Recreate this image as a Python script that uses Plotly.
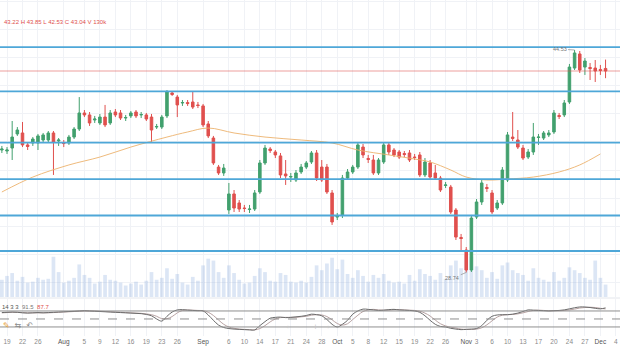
import plotly.graph_objects as go

# ---------------- data ----------------
idx = list(range(118))
opens = [37.43, 37.36, 37.57, 38.57, 38.64, 37.79, 37.93, 37.93, 38.14, 38.14,
         38.64, 38.07, 37.96, 37.93, 38.35, 38.92, 40.06, 39.92, 39.56, 39.35,
         39.77, 39.35, 40.13, 40.06, 39.70, 39.85, 40.13, 39.92, 39.92, 39.77,
         39.06, 39.06, 39.85, 41.48, 41.19, 40.77, 40.80, 40.84, 40.63, 40.56,
         39.28, 38.28, 36.22, 35.80, 33.17, 34.31, 33.67, 33.31, 33.21, 33.24,
         34.45, 36.51, 37.50, 37.29, 37.01, 35.73, 35.51, 35.30, 35.87, 36.22,
         36.58, 37.22, 36.22, 36.22, 34.38, 32.67, 32.82, 35.44, 35.87, 36.22,
         37.64, 36.83, 36.72, 35.80, 36.58, 37.79, 37.43, 37.29, 37.18, 37.22,
         36.93, 37.08, 35.66, 36.51, 35.80, 35.44, 34.91, 34.80, 33.17, 31.22,
         30.33, 28.91, 32.67, 33.74, 34.77, 34.38, 33.31, 33.67, 35.30, 38.35,
         38.14, 37.57, 36.93, 37.29, 38.32, 38.28, 38.50, 38.71, 39.88, 39.92,
         40.84, 43.25, 44.25, 43.32, 43.29, 43.25, 43.15, 43.22]
highs = [37.72, 37.64, 39.49, 39.06, 39.42, 37.93, 38.35, 38.57, 38.64, 38.78,
         38.78, 38.28, 38.14, 38.50, 39.06, 41.19, 40.27, 40.13, 39.85, 39.99,
         40.63, 40.27, 40.34, 40.27, 39.92, 40.20, 40.27, 40.13, 40.06, 39.99,
         39.28, 39.92, 41.69, 41.62, 41.34, 40.98, 40.98, 41.55, 40.84, 40.70,
         39.49, 38.43, 36.37, 36.44, 35.09, 34.59, 33.88, 33.53, 33.53, 34.59,
         36.72, 37.79, 37.64, 37.43, 37.22, 36.72, 35.80, 36.01, 36.44, 36.65,
         37.36, 37.43, 36.72, 36.44, 34.59, 32.96, 35.66, 36.08, 36.37, 38.00,
         37.86, 37.08, 37.08, 36.86, 38.00, 37.93, 37.57, 37.43, 37.36, 37.43,
         37.15, 37.29, 36.86, 36.72, 36.37, 35.59, 35.16, 34.95, 33.31, 31.47,
         30.54, 32.82, 33.95, 35.30, 35.02, 34.59, 33.88, 36.22, 38.71, 40.13,
         38.85, 37.79, 37.50, 39.35, 38.57, 38.78, 38.85, 40.27, 40.06, 40.98,
         43.54, 44.53, 44.46, 43.96, 43.61, 43.82, 43.47, 43.85]
lows = [37.22, 37.15, 36.72, 38.43, 37.64, 37.43, 37.72, 37.43, 38.00, 38.00,
        35.66, 37.72, 37.64, 37.79, 38.21, 38.78, 39.77, 39.14, 39.35, 39.21,
        39.06, 39.21, 39.77, 39.56, 39.49, 39.70, 39.70, 39.70, 39.49, 38.00,
        38.92, 38.92, 39.70, 41.27, 39.77, 40.56, 40.56, 40.34, 40.41, 39.06,
        38.28, 36.37, 35.66, 35.59, 32.89, 33.03, 33.03, 33.03, 32.96, 33.10,
        34.31, 36.37, 37.22, 36.86, 35.44, 34.95, 35.16, 35.16, 35.73, 36.08,
        36.44, 35.23, 35.16, 34.31, 32.11, 32.46, 32.60, 35.30, 35.73, 36.08,
        36.86, 36.51, 35.66, 35.66, 36.44, 37.08, 36.93, 36.79, 36.93, 36.58,
        36.72, 35.51, 35.51, 35.37, 35.30, 34.45, 34.73, 32.89, 31.04, 30.33,
        28.74, 28.77, 32.53, 33.53, 34.45, 32.89, 33.17, 33.53, 35.16, 38.07,
        37.50, 36.72, 36.79, 37.08, 37.79, 38.14, 38.35, 38.57, 39.63, 39.77,
        40.70, 43.11, 42.90, 42.76, 42.40, 42.26, 42.76, 42.53]
closes = [37.50, 37.43, 38.35, 38.85, 37.79, 37.68, 38.21, 38.43, 38.50, 38.64,
          38.00, 38.14, 37.89, 38.35, 38.92, 40.06, 39.92, 39.35, 39.63, 39.77,
          39.21, 40.06, 39.92, 39.70, 39.74, 40.06, 39.85, 39.95, 39.63, 38.85,
          39.10, 39.77, 41.55, 41.37, 40.63, 40.80, 40.73, 40.48, 40.59, 39.21,
          38.43, 36.51, 35.80, 36.15, 34.31, 33.31, 33.24, 33.28, 33.24, 34.38,
          36.51, 37.57, 37.39, 37.08, 35.66, 35.59, 35.55, 35.80, 36.22, 36.51,
          37.22, 35.44, 35.30, 34.45, 32.32, 32.75, 35.44, 35.87, 36.22, 37.79,
          37.08, 36.76, 35.80, 36.72, 37.79, 37.29, 37.08, 36.93, 37.11, 36.72,
          36.90, 35.66, 36.58, 35.51, 35.44, 34.59, 34.95, 33.03, 31.25, 31.15,
          28.91, 32.60, 33.74, 35.09, 34.70, 33.03, 33.67, 36.01, 38.50, 38.25,
          37.64, 36.86, 37.29, 38.35, 38.35, 38.64, 38.64, 40.06, 39.81, 40.77,
          43.32, 44.32, 43.11, 43.75, 43.22, 43.04, 43.08, 43.04]
volume_k = [180, 220, 250, 170, 210, 150, 160, 200, 180, 190,
            420, 260, 150, 170, 200, 340, 230, 200, 140, 160,
            230, 180, 170, 150, 120, 140, 160, 130, 170, 260,
            180, 200, 300, 190, 240, 150, 130, 210, 170, 330,
            400, 380, 260, 200, 330, 250, 180, 140, 150, 220,
            300, 260, 170, 160, 250, 230, 160, 150, 170, 150,
            210, 330, 280, 350, 410, 290, 390, 240, 200, 280,
            220, 160, 230, 200, 240, 170, 150, 160, 140, 230,
            170, 290, 240, 220, 180, 250, 190, 330, 380, 300,
            440, 420, 320, 280, 200, 260, 190, 330, 360, 280,
            250, 230, 170, 300, 200, 180, 160, 260, 170, 200,
            310, 280, 250, 200, 180, 380, 200, 130]

ma_idx = [0, 6, 13, 19, 25, 32, 36, 40, 45, 51, 58, 64, 69, 75, 80, 83, 87, 90, 94, 98, 103, 108, 112, 116]
ma_vals = [34.45, 35.51, 36.37, 36.93, 37.64, 38.35, 38.71, 38.99, 38.64, 38.35, 38.14, 37.93, 37.43,
           37.08, 36.79, 36.58, 36.01, 35.51, 35.30, 35.37, 35.51, 35.87, 36.37, 37.15]

stoch_k = [74, 75, 76, 75, 73, 72, 73, 74, 73, 74,
           75, 76, 77, 78, 79, 80, 81, 80, 79, 78,
           77, 76, 75, 74, 73, 72, 71, 70, 67, 62,
           50, 42, 60, 76, 84, 85, 83, 82, 81, 80,
           65, 45, 27, 18, 14, 12, 11, 10, 9, 9,
           25, 40, 53, 56, 57, 55, 56, 58, 60, 63,
           68, 66, 62, 48, 30, 20, 30, 45, 68, 80,
           87, 86, 84, 82, 83, 85, 86, 84, 83, 82,
           80, 75, 62, 45, 30, 22, 20, 15, 12, 10,
           11, 12, 14, 25, 45, 60, 65, 66, 66, 68,
           72, 78, 84, 83, 82, 81, 80, 81, 82, 84,
           88, 92, 95, 95, 93, 90, 88, 91.5]
stoch_d = [73, 74, 75, 75, 74, 73, 73, 73, 73, 73,
           74, 75, 76, 77, 78, 79, 80, 80, 80, 79,
           78, 77, 76, 75, 74, 73, 72, 71, 69, 66,
           60, 51, 51, 59, 73, 82, 84, 83, 82, 81,
           75, 63, 46, 30, 20, 15, 12, 11, 10, 9,
           14, 25, 39, 50, 55, 56, 56, 56, 58, 60,
           64, 66, 65, 59, 47, 33, 27, 32, 48, 64,
           78, 84, 86, 84, 83, 83, 85, 85, 84, 83,
           82, 79, 72, 61, 46, 32, 24, 19, 16, 12,
           11, 11, 12, 17, 28, 43, 57, 64, 66, 67,
           69, 73, 78, 82, 83, 82, 81, 81, 81, 82,
           84, 87, 91, 93, 94, 93, 90, 87.7]

level_prices = [44.74, 41.60, 37.95, 35.37, 32.78, 30.26]
last_price = 43.04

tick_idx = [1, 4, 7, 12, 16, 19, 22, 25, 28, 31, 34, 39, 44, 47, 50, 53, 56, 59, 62,
            65, 68, 71, 74, 77, 80, 83, 86, 90, 92, 95, 98, 101, 104, 107, 110, 113, 116, 119]
tick_labels = ["19", "22", "26", "Aug", "5", "9", "12", "16", "19", "23", "26", "Sep",
               "6", "10", "14", "17", "21", "24", "28", "Oct", "5", "8", "12", "15", "19",
               "22", "26", "Nov", "3", "6", "10", "13", "17", "20", "24", "27", "Dec", "4"]
months = {"Aug", "Sep", "Oct", "Nov", "Dec"}

# ---------------- styling ----------------
GREEN = "#42a06e"
RED = "#e0504e"
LEVEL = "#4ea7d8"
GRID = "#f0f2f6"
FONT = "Liberation Sans"

H_PLOT = 336.0
main_dom = [1 - 297 / H_PLOT, 1]
stoch_dom = [0, 37 / H_PLOT]

fig = go.Figure()

fig.add_trace(go.Bar(x=idx, y=volume_k, width=0.72,
                     marker=dict(color="rgba(130,165,220,0.28)", line=dict(width=0)),
                     xaxis="x", yaxis="y", hoverinfo="skip"))

fig.add_trace(go.Scatter(x=ma_idx, y=ma_vals, mode="lines",
                         line=dict(color="rgba(236,178,110,0.9)", width=1, shape="spline", smoothing=1.0),
                         xaxis="x", yaxis="y2", hoverinfo="skip"))

fig.add_trace(go.Candlestick(x=idx, open=opens, high=highs, low=lows, close=closes,
                             increasing=dict(line=dict(color=GREEN, width=1), fillcolor=GREEN),
                             decreasing=dict(line=dict(color=RED, width=1), fillcolor=RED),
                             whiskerwidth=0, xaxis="x", yaxis="y2", hoverinfo="skip"))

fig.add_trace(go.Scatter(x=idx, y=stoch_d, mode="lines",
                         line=dict(color="#b8a3a3", width=1, shape="spline"),
                         xaxis="x2", yaxis="y3", hoverinfo="skip"))
fig.add_trace(go.Scatter(x=idx, y=stoch_k, mode="lines",
                         line=dict(color="#6b6b6b", width=1, shape="spline"),
                         xaxis="x2", yaxis="y3", hoverinfo="skip"))

shapes = []
for p in level_prices:
    shapes.append(dict(type="line", xref="paper", x0=0, x1=1, yref="y2", y0=p, y1=p,
                       line=dict(color=LEVEL, width=1.8)))
shapes.append(dict(type="line", xref="paper", x0=0, x1=1, yref="y2", y0=last_price, y1=last_price,
                   line=dict(color="rgba(224,80,78,0.55)", width=1)))
for v, dash in [(80, "solid"), (50, "dash"), (20, "solid")]:
    shapes.append(dict(type="line", xref="paper", x0=0, x1=1, yref="y3", y0=v, y1=v,
                       line=dict(color="#8f8f8f", width=1, dash=dash)))
shapes.append(dict(type="line", xref="paper", x0=0, x1=1, yref="paper",
                   y0=1 - 298 / H_PLOT, y1=1 - 298 / H_PLOT, line=dict(color="#e3e6ec", width=1)))

hi_i = max(idx, key=lambda i: highs[i])
lo_i = min(idx, key=lambda i: lows[i])
annotations = [
    dict(xref="paper", yref="paper", x=2 / 620, y=1 - 22 / H_PLOT, xanchor="left", yanchor="middle",
         showarrow=False,
         text="43.22 H 43.85 L 42.53 C 43.04 V 130k",
         font=dict(family=FONT, size=6, color="#e0504e")),
    dict(xref="paper", yref="paper", x=0, y=1 - 307 / H_PLOT, xanchor="left", yanchor="middle",
         showarrow=False,
         text="<span style='color:#555'>14 3 3</span>  <span style='color:#777'>91.5</span>  "
              "<span style='color:#e0504e'>87.7</span>",
         font=dict(family=FONT, size=6, color="#555")),
    dict(xref="x", yref="y2", x=hi_i, y=highs[hi_i], ax=-15, ay=-1, showarrow=True,
         arrowhead=0, arrowwidth=0.8, arrowcolor="#9a9a9a", text=f"{highs[hi_i]:.2f}",
         font=dict(family=FONT, size=5.5, color="#777")),
    dict(xref="x", yref="y2", x=lo_i, y=lows[lo_i], ax=-14, ay=6, showarrow=True,
         arrowhead=0, arrowwidth=0.8, arrowcolor="#9a9a9a", text=f"{lows[lo_i]:.2f}",
         font=dict(family=FONT, size=5.5, color="#777")),
    dict(xref="paper", yref="paper", x=1 / 620, y=1 - 325 / H_PLOT, xanchor="left", yanchor="middle",
         showarrow=False, text="<span style='color:#e8a23a'>✎</span>  ⇆  ↶",
         font=dict(family="DejaVu Sans", size=8, color="#8a8a8a")),
    dict(xref="paper", yref="paper", x=308 / 620, y=1 - 327 / H_PLOT, xanchor="center", yanchor="middle",
         showarrow=False, text="‹    −    +    ›",
         font=dict(family="DejaVu Sans", size=7, color="#c4c4c4")),
]

ticktext = [f"<span style='color:#555'>{t}</span>" if t in months else t for t in tick_labels]

fig.update_layout(
    width=620, height=364,
    margin=dict(l=0, r=0, t=0, b=28),
    paper_bgcolor="white", plot_bgcolor="white",
    showlegend=False, hovermode=False,
    font=dict(family=FONT, size=6, color="#888"),
    shapes=shapes, annotations=annotations,
    xaxis=dict(domain=[0, 1], anchor="y", range=[-0.36, 119.8], tickmode="array", tickvals=tick_idx,
               showticklabels=False, showgrid=True, gridcolor=GRID, gridwidth=1, zeroline=False,
               showline=False, ticks="", rangeslider=dict(visible=False), fixedrange=True),
    xaxis2=dict(domain=[0, 1], anchor="y3", matches="x", tickmode="array", tickvals=tick_idx,
                ticktext=ticktext, showgrid=True, gridcolor=GRID, gridwidth=1, zeroline=False,
                showline=False, ticks="", tickfont=dict(family=FONT, size=6.5, color="#8a8a8a")),
    yaxis=dict(domain=main_dom, range=[0, 3100], visible=False, fixedrange=True),
    yaxis2=dict(domain=main_dom, overlaying="y", range=[26.994, 48.081], showticklabels=False,
                tickmode="linear", tick0=28, dtick=2, showgrid=True, gridcolor=GRID,
                zeroline=False, showline=False, ticks=""),
    yaxis3=dict(domain=stoch_dom, anchor="x2", range=[-13.9, 124.9], showticklabels=False,
                showgrid=False, zeroline=False, showline=False, ticks=""),
)

fig.write_html("out.html", config={"displayModeBar": False, "staticPlot": True},
               post_script="document.body.style.margin='0';document.body.style.overflow='hidden';")
